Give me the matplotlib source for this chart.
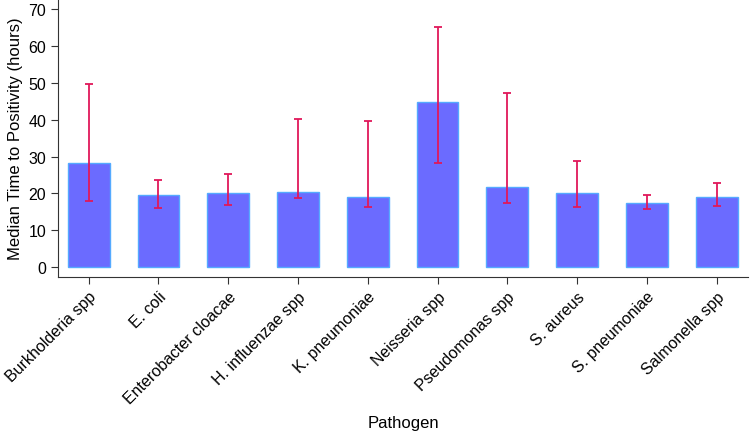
import matplotlib
matplotlib.use('Agg')
import matplotlib.pyplot as plt
import numpy as np

pathogens = ["Burkholderia spp", "E. coli", "Enterobacter cloacae", "H. influenzae spp",
             "K. pneumoniae", "Neisseria spp", "Pseudomonas spp", "S. aureus",
             "S. pneumoniae", "Salmonella spp"]
median_ttp = [28.3, 19.5, 20.2, 20.3, 18.9, 44.9, 21.8, 20.1, 17.3, 18.9]
lower_q = [17.9, 16.0, 16.9, 18.8, 16.2, 28.3, 17.3, 16.2, 15.8, 16.7]
upper_q = [49.7, 23.6, 25.2, 40.3, 39.6, 65.2, 47.2, 28.9, 19.6, 22.9]

plt.rcParams['font.family'] = ['Liberation Sans', 'DejaVu Sans']
plt.rcParams['font.size'] = 11.5

fig = plt.figure(figsize=(7.5, 4.35), dpi=100)
ax = fig.add_axes([0.0773, 0.361, 0.92, 0.639])

x = np.arange(len(pathogens))
med = np.array(median_ttp)
yerr = [med - np.array(lower_q), np.array(upper_q) - med]

ax.bar(x, med, width=0.6, color="#6B6BFF", edgecolor="#55AAFF", linewidth=1)
ax.errorbar(x, med, yerr=yerr, fmt="none", ecolor="#E0185A", elinewidth=1.3,
            capsize=3, capthick=1.3)

ax.set_xlim(-0.44, 9.45)
ax.set_ylim(-2.7, 72.8)
ax.set_yticks(range(0, 80, 10))
ax.set_xticks(x)
ax.set_xticklabels(pathogens, rotation=45, ha="right", rotation_mode="anchor")
ax.tick_params(direction="out", length=5, color="#333333", labelsize=11.5)

for side in ["top", "right"]:
    ax.spines[side].set_visible(False)
for side in ["left", "bottom"]:
    ax.spines[side].set_color("#333333")

ax.set_ylabel("Median Time to Positivity (hours)", fontsize=12, labelpad=4)
ax.set_xlabel("Pathogen", fontsize=12)
ax.xaxis.set_label_coords(0.5, -0.497)

fig.savefig("out.png", dpi=100)
